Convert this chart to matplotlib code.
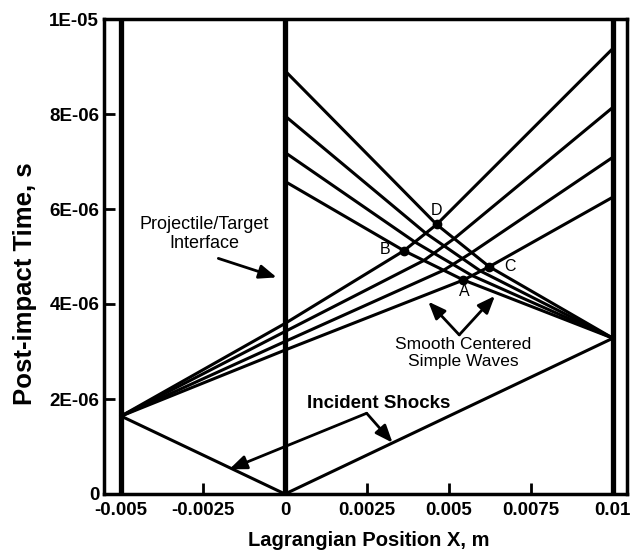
import matplotlib
matplotlib.use("Agg")
import matplotlib.pyplot as plt

plt.rcParams["font.family"] = ["Liberation Sans", "DejaVu Sans"]

US = 1e-6

# wall / interface positions, m
boundaries_x = [-0.005, 0.0, 0.01]

# incident shocks (from impact point at x=0, t=0)
impact = (0.0, 0.0)
left_reflect = (-0.005, 1.64)   # us
right_reflect = (0.01, 3.28)    # us

# left-centred fan (4 lines, bottom to top): time at interface and at x=0.01
left_fan_interface_t = [3.03, 3.21, 3.42, 3.59]
left_fan_end_t = [6.25, 7.09, 8.14, 9.38]

# right-centred fan (4 lines, shallow to steep): time at x=0 interface
right_fan_end_t = [6.58, 7.19, 7.96, 8.91]

# interaction nodes node_x[i][j], node_t[i][j]: left line i crossing right line j
node_x = [
    [0.005442, 0.005704, 0.005967, 0.006229],
    [0.004837, 0.005123, 0.005409, 0.005694],
    [0.004233, 0.004542, 0.004851, 0.005160],
    [0.003628, 0.003960, 0.004293, 0.004625],
]
node_t = [
    [4.505, 4.598, 4.692, 4.785],
    [4.711, 4.834, 4.958, 5.082],
    [4.916, 5.069, 5.224, 5.377],
    [5.122, 5.306, 5.490, 5.674],
]

# labelled corner points
corner_names = ["A", "B", "C", "D"]
corner_idx = [(0, 0), (3, 0), (0, 3), (3, 3)]
corner_label_pos = [(0.005457, 4.26), (0.003049, 5.14), (0.00686, 4.80), (0.004634, 5.96)]

x_ticks = [-0.005, -0.0025, 0, 0.0025, 0.005, 0.0075, 0.01]
x_tick_labels = ["-0.005", "-0.0025", "0", "0.0025", "0.005", "0.0075", "0.01"]
y_ticks = [0, 2e-6, 4e-6, 6e-6, 8e-6, 1e-5]
y_tick_labels = ["0", "2E-06", "4E-06", "6E-06", "8E-06", "1E-05"]

fig = plt.figure(figsize=(6.31, 5.53), dpi=100)
ax = fig.add_axes([104 / 631, 1 - 494 / 553, 523 / 631, 475 / 553])

LW = 2.2
for bx in boundaries_x:
    ax.axvline(bx, color="black", lw=3.8, zorder=3)

# incident shocks
ax.plot([impact[0], left_reflect[0]], [impact[1], left_reflect[1] * US], color="black", lw=LW)
ax.plot([impact[0], right_reflect[0]], [impact[1], right_reflect[1] * US], color="black", lw=LW)

# left fan lines
for i in range(4):
    xs = [left_reflect[0], 0.0] + node_x[i] + [0.01]
    ts = [left_reflect[1], left_fan_interface_t[i]] + node_t[i] + [left_fan_end_t[i]]
    ax.plot(xs, [t * US for t in ts], color="black", lw=LW, solid_joinstyle="round")

# right fan lines
for j in range(4):
    xs = [right_reflect[0]] + [node_x[i][j] for i in range(4)] + [0.0]
    ts = [right_reflect[1]] + [node_t[i][j] for i in range(4)] + [right_fan_end_t[j]]
    ax.plot(xs, [t * US for t in ts], color="black", lw=LW, solid_joinstyle="round")

# corner markers and letters
for name, (i, j), (lx, lt) in zip(corner_names, corner_idx, corner_label_pos):
    ax.plot(node_x[i][j], node_t[i][j] * US, "o", color="black", ms=6, zorder=4)
    ax.text(lx, lt * US, name, ha="center", va="center", fontsize=11.5)

arrow = dict(arrowstyle="-|>,head_length=0.75,head_width=0.3", color="black",
             lw=2, shrinkA=0, shrinkB=0, mutation_scale=14)

# Projectile/Target interface
ax.text(-0.00246, 5.47 * US, "Projectile/Target\nInterface", ha="center", va="center",
        fontsize=13, linespacing=1.15)
ax.annotate("", xy=(-0.000253, 4.56 * US), xytext=(-0.002033, 4.96 * US), arrowprops=arrow)

# Smooth centered simple waves
ax.text(0.005427, 2.97 * US, "Smooth Centered\nSimple Waves", ha="center", va="center",
        fontsize=12.5, linespacing=1.1)
ax.annotate("", xy=(0.004369, 4.05 * US), xytext=(0.005314, 3.35 * US), arrowprops=arrow)
ax.annotate("", xy=(0.006402, 4.17 * US), xytext=(0.005314, 3.35 * US), arrowprops=arrow)

# Incident shocks
ax.text(0.002846, 1.91 * US, "Incident Shocks", ha="center", va="center",
        fontsize=13.5, fontweight="bold")
ax.annotate("", xy=(-0.0017, 0.52 * US), xytext=(0.00249, 1.70 * US), arrowprops=arrow)
ax.annotate("", xy=(0.00328, 1.08 * US), xytext=(0.00249, 1.70 * US), arrowprops=arrow)

ax.set_xlim(-0.00552, 0.01043)
ax.set_ylim(0, 1e-5)
ax.set_xticks(x_ticks, x_tick_labels)
ax.set_yticks(y_ticks, y_tick_labels)
ax.tick_params(direction="in", length=8, width=2, labelsize=13.5)
ax.tick_params(axis="x", pad=6)
for lab in ax.get_xticklabels() + ax.get_yticklabels():
    lab.set_fontweight("bold")
for sp in ax.spines.values():
    sp.set_linewidth(2.5)

ax.set_xlabel("Lagrangian Position X, m", fontsize=14.5, fontweight="bold")
ax.set_ylabel("Post-impact Time, s", fontsize=18.5, fontweight="bold")
ax.xaxis.set_label_coords(0.507, -0.097)
ax.xaxis.label.set_va("center")
ax.yaxis.set_label_coords(-0.151, 0.442)
ax.yaxis.label.set_va("center")

fig.savefig("out.png", dpi=100)
